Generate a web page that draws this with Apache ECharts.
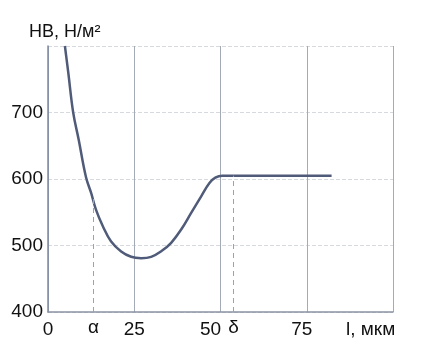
<!DOCTYPE html>
<html>
<head>
<meta charset="utf-8">
<script src="https://cdn.jsdelivr.net/npm/echarts@6/dist/echarts.min.js"></script>
<style>html,body{margin:0;padding:0;background:#fff;}#c{width:427px;height:356px;}</style>
</head>
<body>
<div id="c"></div>
<script>
var curveX = [4.9, 5.9, 7.3, 8.9, 11.0, 12.5, 13.9, 15.9, 18.3, 21.2, 24.1, 27.0, 29.9, 33.0, 35.7, 38.6, 41.5, 44.4, 46.8, 48.5, 50.5, 52.2, 60, 70, 82.2];
var curveY = [800, 759, 700, 659, 603, 579, 554, 529, 506, 491, 483, 481, 483, 492, 504, 524, 549, 574, 594, 602, 605, 605, 605, 605, 605];
var markX = [13.2, 53.8];
var markTop = [570, 605];
var markLabels = ['α', 'δ'];
var xTicks = [0, 25, 50, 75];
var yTicks = [400, 500, 600, 700];
var xName = 'l, мкм';
var yName = 'НВ, Н/м²';

var font = '"Liberation Sans", Arial, sans-serif';
var chart = echarts.init(document.getElementById('c'));
var pts = curveX.map(function (x, i) { return [x, curveY[i]]; });
var marks = markX.map(function (x, i) {
  return [{ coord: [x, 400], label: { formatter: markLabels[i] } }, { coord: [x, markTop[i]] }];
});
chart.setOption({
  backgroundColor: '#ffffff',
  animation: false,
  title: {
    text: yName, left: 24, top: 18,
    textStyle: { fontFamily: font, fontSize: 18, fontWeight: 'normal', color: '#111' }
  },
  grid: { left: 48, right: 34, top: 46, bottom: 44 },
  xAxis: {
    type: 'value', min: 0, max: 100, interval: 25,
    name: xName, nameLocation: 'end', nameGap: -47,
    nameTextStyle: { fontFamily: font, fontSize: 19, color: '#111', verticalAlign: 'top', padding: [8, 0, 0, 0] },
    axisLine: { show: true, lineStyle: { color: '#8a92a2', width: 1.5 } },
    axisTick: { show: false },
    splitLine: { show: true, lineStyle: { color: '#a4aab6', width: 1 } },
    axisLabel: {
      fontFamily: font, fontSize: 19, color: '#111', margin: 8,
      formatter: function (v) {
        if (xTicks.indexOf(v) < 0) return '';
        if (v === 50) return '{a|' + v + '}';
        if (v === 75) return '{b|' + v + '}';
        return '' + v;
      },
      rich: {
        a: { fontFamily: font, fontSize: 19, color: '#111', padding: [0, 20, 0, 0] },
        b: { fontFamily: font, fontSize: 19, color: '#111', padding: [0, 10, 0, 0] }
      }
    }
  },
  yAxis: {
    type: 'value', min: 400, max: 800, interval: 100,
    axisLine: { show: true, lineStyle: { color: '#7f8aa0', width: 1.5 } },
    axisTick: { show: false },
    splitLine: { show: true, lineStyle: { color: '#d6dadf', width: 1, type: 'dashed' } },
    axisLabel: {
      fontFamily: font, fontSize: 19, color: '#111', margin: 5,
      formatter: function (v) { return yTicks.indexOf(v) >= 0 ? '' + v : ''; }
    }
  },
  series: [{
    type: 'line',
    data: pts,
    smooth: 0.4,
    showSymbol: false,
    clip: true,
    lineStyle: { color: '#4f5b78', width: 2.5 },
    markLine: {
      silent: true,
      symbol: ['none', 'none'],
      lineStyle: { color: '#9aa2b0', type: [5, 4], width: 1 },
      label: { show: true, position: 'start', distance: 6, fontFamily: font, fontSize: 19, color: '#111' },
      data: marks
    }
  }]
});
</script>
</body>
</html>
